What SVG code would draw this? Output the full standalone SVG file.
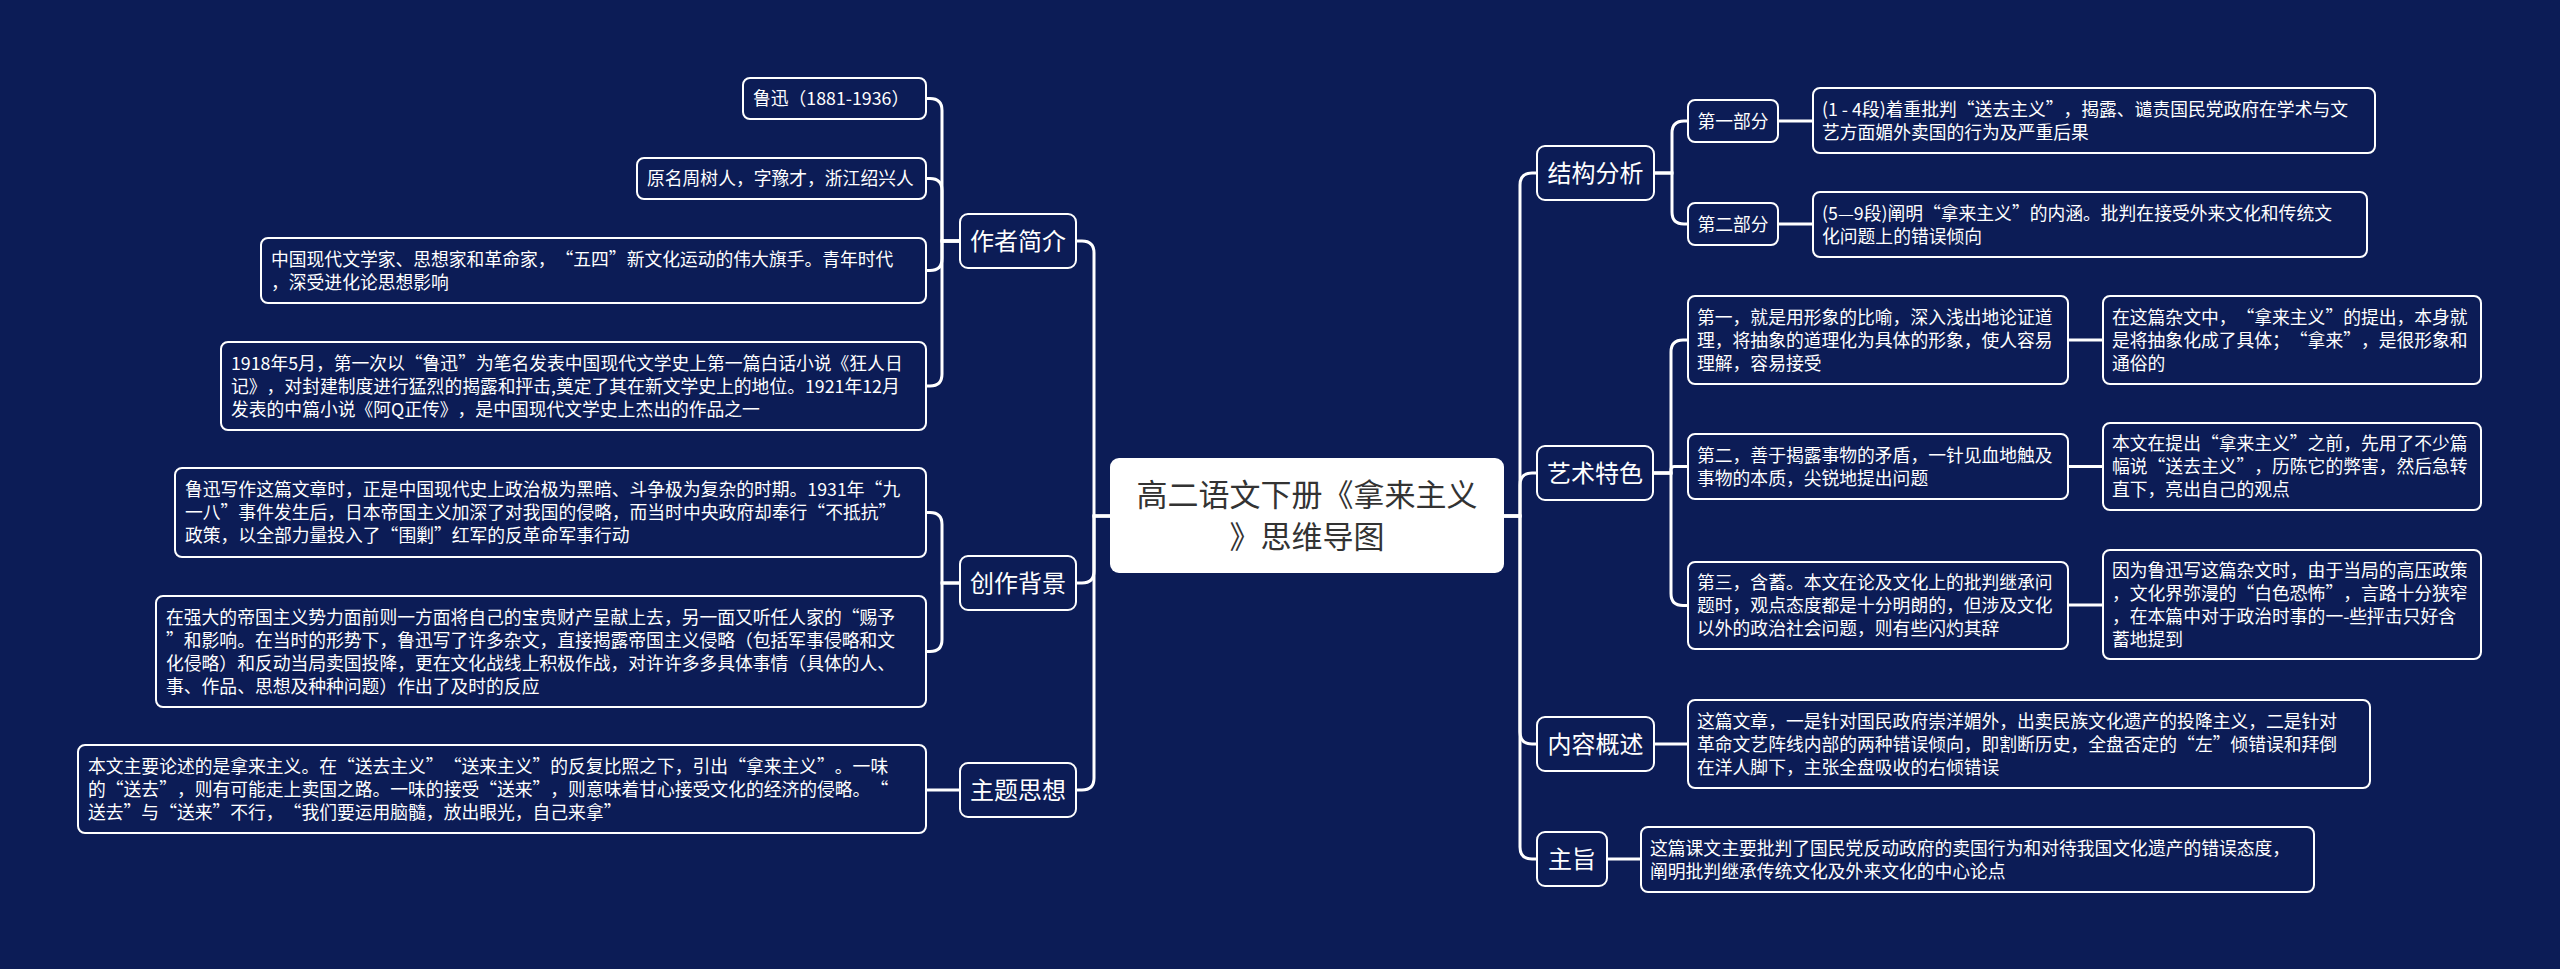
<svg xmlns="http://www.w3.org/2000/svg" width="2560" height="969" viewBox="0 0 2560 969">
<style>
.bg{fill:#0c1c56}
.n rect{fill:#0c1c56;stroke:#ffffff;stroke-width:2}
.root rect{fill:#ffffff}
text{font-family:"Noto Sans CJK SC","Microsoft YaHei",sans-serif;fill:#ffffff;text-spacing-trim:space-all}
.t{font-size:17.8px}
.t1{font-size:24px;text-anchor:middle}
.t2{font-size:17.8px;text-anchor:middle}
.tr{font-size:31px;text-anchor:middle;fill:#333333}
.c path{fill:none;stroke:#ffffff;stroke-width:3}
</style>
<rect class="bg" x="0" y="0" width="2560" height="969"/>
<g class="c" id="connectors">
<path d="M1110,516 H1094 V253 Q1094,241 1082,241 H1076"/>
<path d="M1110,516 H1094 V571 Q1094,583 1082,583 H1076"/>
<path d="M1110,516 H1094 V778 Q1094,790 1082,790 H1076"/>
<path d="M1504,516 H1520 V185 Q1520,173 1532,173 H1537"/>
<path d="M1504,516 H1520 V485 Q1520,473 1532,473 H1537"/>
<path d="M1504,516 H1520 V732 Q1520,744 1532,744 H1537"/>
<path d="M1504,516 H1520 V847 Q1520,859 1532,859 H1537"/>
<path d="M960,241 H942 V110.5 Q942,98.5 930,98.5 H926"/>
<path d="M960,241 H942 V190.5 Q942,178.5 930,178.5 H926"/>
<path d="M960,241 H942 V258.5 Q942,270.5 930,270.5 H926"/>
<path d="M960,241 H942 V374 Q942,386 930,386 H926"/>
<path d="M960,583 H942 V524.5 Q942,512.5 930,512.5 H926"/>
<path d="M960,583 H942 V639.5 Q942,651.5 930,651.5 H926"/>
<path d="M960,790 H926"/>
<path d="M1654,173 H1672 V133 Q1672,121 1684,121 H1688"/>
<path d="M1654,173 H1672 V212 Q1672,224 1684,224 H1688"/>
<path d="M1778,121 H1813"/>
<path d="M1778,224 H1813"/>
<path d="M1653,473 H1671 V352 Q1671,340 1683,340 H1688"/>
<path d="M1653,473 H1671 V469.75 Q1671,466.5 1674.25,466.5 H1688"/>
<path d="M1653,473 H1671 V593.5 Q1671,605.5 1683,605.5 H1688"/>
<path d="M2068,340 H2103"/>
<path d="M2068,466.5 H2103"/>
<path d="M2068,605 H2103"/>
<path d="M1654,744 H1688"/>
<path d="M1607,859 H1641"/>
</g>
<g class="root" id="root">
<rect x="1110" y="458" width="394" height="115" rx="9"/>
<text class="tr" x="1307" y="506">高二语文下册《拿来主义</text>
<text class="tr" x="1307" y="548">》思维导图</text>
</g>
<g class="n" id="zuozhe">
<rect x="960" y="214" width="116" height="54" rx="8"/>
<text class="t1" x="1018" y="250">作者简介</text>
</g>
<g class="n" id="chuangzuo">
<rect x="960" y="556" width="116" height="54" rx="8"/>
<text class="t1" x="1018" y="592">创作背景</text>
</g>
<g class="n" id="zhuti">
<rect x="960" y="763" width="116" height="54" rx="8"/>
<text class="t1" x="1018" y="799">主题思想</text>
</g>
<g class="n" id="jiegou">
<rect x="1537" y="146" width="117" height="54" rx="8"/>
<text class="t1" x="1595.5" y="182">结构分析</text>
</g>
<g class="n" id="yishu">
<rect x="1537" y="446" width="116" height="54" rx="8"/>
<text class="t1" x="1595" y="482">艺术特色</text>
</g>
<g class="n" id="neirong">
<rect x="1537" y="717" width="117" height="54" rx="8"/>
<text class="t1" x="1595.5" y="753">内容概述</text>
</g>
<g class="n" id="zhuzhi">
<rect x="1537" y="832" width="70" height="54" rx="8"/>
<text class="t1" x="1572" y="868">主旨</text>
</g>
<g class="n" id="luxun">
<rect x="743" y="78" width="183" height="41" rx="7"/>
<text class="t" x="753" y="105">鲁迅（1881-1936）</text>
</g>
<g class="n" id="yuanming">
<rect x="637" y="158" width="289" height="41" rx="7"/>
<text class="t" x="647" y="185">原名周树人，字豫才，浙江绍兴人</text>
</g>
<g class="n" id="zhongguo">
<rect x="261" y="238" width="665" height="65" rx="7"/>
<text class="t" x="271" y="265.5">中国现代文学家、思想家和革命家，“五四”新文化运动的伟大旗手。青年时代</text>
<text class="t" x="271" y="288.5">，深受进化论思想影响</text>
</g>
<g class="n" id="y1918">
<rect x="221" y="342" width="705" height="88" rx="7"/>
<text class="t" x="231" y="369.5">1918年5月，第一次以“鲁迅”为笔名发表中国现代文学史上第一篇白话小说《狂人日</text>
<text class="t" x="231" y="392.5">记》，对封建制度进行猛烈的揭露和抨击,奠定了其在新文学史上的地位。1921年12月</text>
<text class="t" x="231" y="415.5">发表的中篇小说《阿Q正传》，是中国现代文学史上杰出的作品之一</text>
</g>
<g class="n" id="xiezuo">
<rect x="175" y="468" width="751" height="89" rx="7"/>
<text class="t" x="185" y="496">鲁迅写作这篇文章时，正是中国现代史上政治极为黑暗、斗争极为复杂的时期。1931年“九</text>
<text class="t" x="185" y="519">一八”事件发生后，日本帝国主义加深了对我国的侵略，而当时中央政府却奉行“不抵抗”</text>
<text class="t" x="185" y="542">政策，以全部力量投入了“围剿”红军的反革命军事行动</text>
</g>
<g class="n" id="qiangda">
<rect x="156" y="596" width="770" height="111" rx="7"/>
<text class="t" x="166" y="623.5">在强大的帝国主义势力面前则一方面将自己的宝贵财产呈献上去，另一面又听任人家的“赐予</text>
<text class="t" x="166" y="646.5">”和影响。在当时的形势下，鲁迅写了许多杂文，直接揭露帝国主义侵略（包括军事侵略和文</text>
<text class="t" x="166" y="669.5">化侵略）和反动当局卖国投降，更在文化战线上积极作战，对许许多多具体事情（具体的人、</text>
<text class="t" x="166" y="692.5">事、作品、思想及种种问题）作出了及时的反应</text>
</g>
<g class="n" id="benwen">
<rect x="78" y="745" width="848" height="88" rx="7"/>
<text class="t" x="88" y="772.5">本文主要论述的是拿来主义。在“送去主义”“送来主义”的反复比照之下，引出“拿来主义”。一味</text>
<text class="t" x="88" y="795.5">的“送去”，则有可能走上卖国之路。一味的接受“送来”，则意味着甘心接受文化的经济的侵略。“</text>
<text class="t" x="88" y="818.5">送去”与“送来”不行，“我们要运用脑髓，放出眼光，自己来拿”</text>
</g>
<g class="n" id="diyibufen">
<rect x="1688" y="100" width="90" height="42" rx="7"/>
<text class="t2" x="1733" y="127.5">第一部分</text>
</g>
<g class="n" id="dierbufen">
<rect x="1688" y="203" width="90" height="42" rx="7"/>
<text class="t2" x="1733" y="230.5">第二部分</text>
</g>
<g class="n" id="duan14">
<rect x="1813" y="88" width="562" height="65" rx="7"/>
<text class="t" x="1822" y="115.5">(1 - 4段)着重批判“送去主义”，揭露、谴责国民党政府在学术与文</text>
<text class="t" x="1822" y="138.5">艺方面媚外卖国的行为及严重后果</text>
</g>
<g class="n" id="duan59">
<rect x="1813" y="192" width="554" height="65" rx="7"/>
<text class="t" x="1822" y="219.5">(5—9段)阐明“拿来主义”的内涵。批判在接受外来文化和传统文</text>
<text class="t" x="1822" y="242.5">化问题上的错误倾向</text>
</g>
<g class="n" id="diyi">
<rect x="1688" y="296" width="380" height="88" rx="7"/>
<text class="t" x="1697" y="323.5">第一，就是用形象的比喻，深入浅出地论证道</text>
<text class="t" x="1697" y="346.5">理，将抽象的道理化为具体的形象，使人容易</text>
<text class="t" x="1697" y="369.5">理解，容易接受</text>
</g>
<g class="n" id="zazhe">
<rect x="2103" y="296" width="378" height="88" rx="7"/>
<text class="t" x="2112" y="323.5">在这篇杂文中，“拿来主义”的提出，本身就</text>
<text class="t" x="2112" y="346.5">是将抽象化成了具体；“拿来”，是很形象和</text>
<text class="t" x="2112" y="369.5">通俗的</text>
</g>
<g class="n" id="dier">
<rect x="1688" y="434" width="380" height="65" rx="7"/>
<text class="t" x="1697" y="461.5">第二，善于揭露事物的矛盾，一针见血地触及</text>
<text class="t" x="1697" y="484.5">事物的本质，尖锐地提出问题</text>
</g>
<g class="n" id="tichu">
<rect x="2103" y="423" width="378" height="87" rx="7"/>
<text class="t" x="2112" y="450">本文在提出“拿来主义”之前，先用了不少篇</text>
<text class="t" x="2112" y="473">幅说“送去主义”，历陈它的弊害，然后急转</text>
<text class="t" x="2112" y="496">直下，亮出自己的观点</text>
</g>
<g class="n" id="disan">
<rect x="1688" y="562" width="380" height="87" rx="7"/>
<text class="t" x="1697" y="589">第三，含蓄。本文在论及文化上的批判继承问</text>
<text class="t" x="1697" y="612">题时，观点态度都是十分明朗的，但涉及文化</text>
<text class="t" x="1697" y="635">以外的政治社会问题，则有些闪灼其辞</text>
</g>
<g class="n" id="yinwei">
<rect x="2103" y="550" width="378" height="109" rx="7"/>
<text class="t" x="2112" y="576.5">因为鲁迅写这篇杂文时，由于当局的高压政策</text>
<text class="t" x="2112" y="599.5">，文化界弥漫的“白色恐怖”，言路十分狭窄</text>
<text class="t" x="2112" y="622.5">，在本篇中对于政治时事的一-些抨击只好含</text>
<text class="t" x="2112" y="645.5">蓄地提到</text>
</g>
<g class="n" id="zhepian">
<rect x="1688" y="700" width="682" height="88" rx="7"/>
<text class="t" x="1697" y="727.5">这篇文章，一是针对国民政府崇洋媚外，出卖民族文化遗产的投降主义，二是针对</text>
<text class="t" x="1697" y="750.5">革命文艺阵线内部的两种错误倾向，即割断历史，全盘否定的“左”倾错误和拜倒</text>
<text class="t" x="1697" y="773.5">在洋人脚下，主张全盘吸收的右倾错误</text>
</g>
<g class="n" id="kewen">
<rect x="1641" y="827" width="673" height="65" rx="7"/>
<text class="t" x="1650" y="854.5">这篇课文主要批判了国民党反动政府的卖国行为和对待我国文化遗产的错误态度，</text>
<text class="t" x="1650" y="877.5">阐明批判继承传统文化及外来文化的中心论点</text>
</g>
</svg>
